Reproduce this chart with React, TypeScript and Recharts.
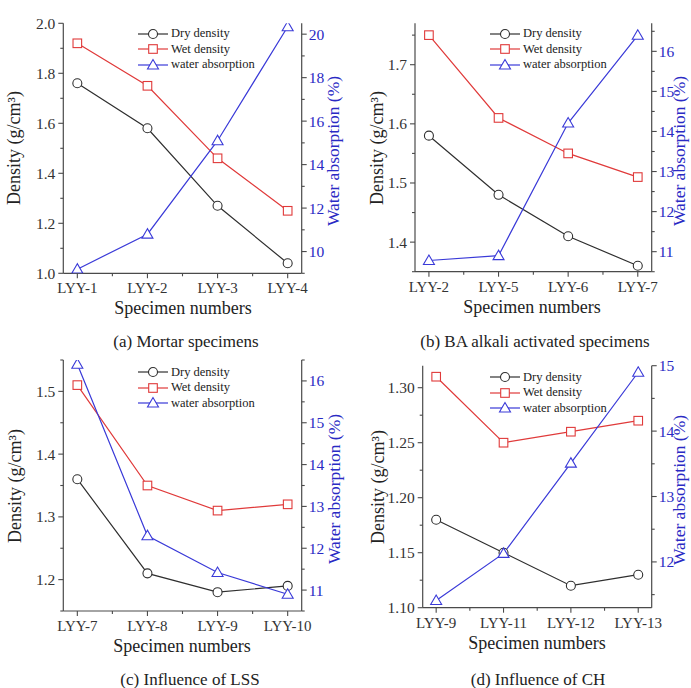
import React from "react";
import { LineChart, Line, XAxis, YAxis, Legend } from "recharts";

// (a) Mortar specimens
const catsA = ["LYY-1", "LYY-2", "LYY-3", "LYY-4"];
const dryA = [1.76, 1.58, 1.27, 1.04];
const wetA = [1.92, 1.75, 1.46, 1.25];
const waterA = [9.19, 10.8, 15.1, 20.34];
const leftTicksA = [1.0, 1.2, 1.4, 1.6, 1.8, 2.0];
const rightTicksA = [10, 12, 14, 16, 18, 20];

// (b) BA alkali activated specimens
const catsB = ["LYY-2", "LYY-5", "LYY-6", "LYY-7"];
const dryB = [1.58, 1.48, 1.41, 1.36];
const wetB = [1.75, 1.61, 1.55, 1.51];
const waterB = [10.78, 10.9, 14.21, 16.4];
const leftTicksB = [1.4, 1.5, 1.6, 1.7];
const rightTicksB = [11, 12, 13, 14, 15, 16];

// (c) Influence of LSS
const catsC = ["LYY-7", "LYY-8", "LYY-9", "LYY-10"];
const dryC = [1.36, 1.21, 1.18, 1.19];
const wetC = [1.51, 1.35, 1.31, 1.32];
const waterC = [16.4, 12.3, 11.42, 10.9];
const leftTicksC = [1.2, 1.3, 1.4, 1.5];
const rightTicksC = [11, 12, 13, 14, 15, 16];

// (d) Influence of CH
const catsD = ["LYY-9", "LYY-11", "LYY-12", "LYY-13"];
const dryD = [1.18, 1.15, 1.12, 1.13];
const wetD = [1.31, 1.25, 1.26, 1.27];
const waterD = [11.41, 12.13, 13.51, 14.9];
const leftTicksD = [1.1, 1.15, 1.2, 1.25, 1.3];
const rightTicksD = [12, 13, 14, 15];

const xTicks = [0, 0.5, 1, 1.5, 2, 2.5, 3];

const DRY = "#2f2f2f";
const WET = "#e03a3a";
const WATER = "#3a3ad8";
const BLUE_TEXT = "#2a2ac4";
const AXIS = "#4a4a4a";
const FONT = "'Liberation Serif', 'Times New Roman', serif";

const legendItems = [
  { name: "Dry density", color: DRY, shape: "circle" },
  { name: "Wet density", color: WET, shape: "square" },
  { name: "water absorption", color: WATER, shape: "triangle" },
];

function withMinor(majors: number[], domain: number[]) {
  const half = (majors[1] - majors[0]) / 2;
  const out: number[] = [];
  for (let k = -1; k <= (majors.length - 1) * 2 + 1; k++) {
    const v = Math.round((majors[0] + k * half) * 1e6) / 1e6;
    if (v >= domain[0] - 1e-9 && v <= domain[1] + 1e-9) out.push(v);
  }
  return out;
}

const isMajor = (v: number, majors: number[]) => majors.some((m) => Math.abs(m - v) < 1e-6);

function marker(shape: string, cx: number, cy: number, color: string, key?: any) {
  if (shape === "square")
    return <rect key={key} x={cx - 4.3} y={cy - 4.3} width={8.6} height={8.6} fill="#fff" stroke={color} strokeWidth={1.1} />;
  if (shape === "triangle")
    return (
      <polygon
        key={key}
        points={`${cx},${cy - 5.5} ${cx - 5.5},${cy + 4} ${cx + 5.5},${cy + 4}`}
        fill="#fff"
        stroke={color}
        strokeWidth={1.1}
      />
    );
  return <circle key={key} cx={cx} cy={cy} r={4.5} fill="#fff" stroke={color} strokeWidth={1.1} />;
}

const dotOf = (shape: string, color: string) => (p: any) => marker(shape, p.cx, p.cy, color, p.index);

function Panel(props: any) {
  const { cats, dry, wet, water, leftTicks, rightTicks, leftDomain, rightDomain, digits, box, plot, legend } = props;
  const data = cats.map((c: string, i: number) => ({ idx: i, name: c, dry: dry[i], wet: wet[i], water: water[i] }));
  const xH = 30;

  const leftTick = (p: any) => {
    const v = p.payload.value;
    const major = isMajor(v, leftTicks);
    return (
      <g>
        <line x1={p.x} x2={p.x - (major ? 5 : 3)} y1={p.y} y2={p.y} stroke={AXIS} strokeWidth={1.1} />
        {major && (
          <text x={p.x - 8} y={p.y} textAnchor="end" dominantBaseline="central" fontSize={15.5} fill="#333" fontFamily={FONT}>
            {v.toFixed(digits)}
          </text>
        )}
      </g>
    );
  };

  const rightTick = (p: any) => {
    const v = p.payload.value;
    const major = isMajor(v, rightTicks);
    return (
      <g>
        <line x1={p.x} x2={p.x + (major ? 5 : 3)} y1={p.y} y2={p.y} stroke={AXIS} strokeWidth={1.1} />
        {major && (
          <text x={p.x + 7} y={p.y} textAnchor="start" dominantBaseline="central" fontSize={15.5} fill={BLUE_TEXT} fontFamily={FONT}>
            {String(v)}
          </text>
        )}
      </g>
    );
  };

  const bottomTick = (p: any) => {
    const v = p.payload.value;
    const major = Number.isInteger(v);
    return (
      <g>
        <line x1={p.x} x2={p.x} y1={p.y} y2={p.y + (major ? 5 : 3)} stroke={AXIS} strokeWidth={1.1} />
        {major && (
          <text x={p.x} y={p.y + 15} textAnchor="middle" dominantBaseline="central" fontSize={15} fill="#333" fontFamily={FONT}>
            {cats[v]}
          </text>
        )}
      </g>
    );
  };

  const legendContent = () => (
    <div style={{ fontFamily: FONT, fontSize: 12.5, color: "#222" }}>
      {legendItems.map((it) => (
        <div key={it.name} style={{ display: "flex", alignItems: "center", height: 15.5, whiteSpace: "nowrap" }}>
          <svg width={31} height={14} style={{ display: "block" }}>
            <line x1={0} x2={30} y1={7} y2={7} stroke={it.color} strokeWidth={1.2} />
            {marker(it.shape, 15, 7, it.color)}
          </svg>
          <span style={{ marginLeft: 2 }}>{it.name}</span>
        </div>
      ))}
    </div>
  );

  return (
    <div style={{ position: "absolute", left: box.x, top: box.y }}>
      <LineChart
        width={box.w}
        height={box.h}
        data={data}
        margin={{ top: plot.t - box.y, left: 0, right: 0, bottom: box.y + box.h - plot.b - xH }}
      >
        <XAxis
          xAxisId="bottom"
          type="number"
          dataKey="idx"
          domain={[-0.2, 3.2]}
          allowDataOverflow
          ticks={xTicks}
          interval={0}
          height={xH}
          tickSize={0}
          tickMargin={0}
          tickLine={false}
          tick={bottomTick}
          axisLine={{ stroke: AXIS, strokeWidth: 1.2 }}
        />
        <XAxis
          xAxisId="top"
          orientation="top"
          type="number"
          dataKey="idx"
          domain={[-0.2, 3.2]}
          allowDataOverflow
          height={0}
          tick={false}
          tickLine={false}
          axisLine={{ stroke: AXIS, strokeWidth: 1.2 }}
        />
        <YAxis
          yAxisId="left"
          type="number"
          domain={leftDomain}
          allowDataOverflow
          ticks={withMinor(leftTicks, leftDomain)}
          interval={0}
          width={plot.l - box.x}
          tickSize={0}
          tickMargin={0}
          tickLine={false}
          tick={leftTick}
          axisLine={{ stroke: AXIS, strokeWidth: 1.2 }}
        />
        <YAxis
          yAxisId="right"
          orientation="right"
          type="number"
          domain={rightDomain}
          allowDataOverflow
          ticks={withMinor(rightTicks, rightDomain)}
          interval={0}
          width={box.x + box.w - plot.r}
          tickSize={0}
          tickMargin={0}
          tickLine={false}
          tick={rightTick}
          axisLine={{ stroke: AXIS, strokeWidth: 1.2 }}
        />
        <Legend
          layout="vertical"
          align="center"
          verticalAlign="middle"
          content={legendContent}
          wrapperStyle={{ left: legend.x - box.x, top: legend.y - box.y, width: 150 }}
        />
        <Line xAxisId="bottom" yAxisId="left" type="linear" dataKey="dry" name="Dry density" stroke={DRY} strokeWidth={1.2} dot={dotOf("circle", DRY)} activeDot={false} isAnimationActive={false} />
        <Line xAxisId="bottom" yAxisId="left" type="linear" dataKey="wet" name="Wet density" stroke={WET} strokeWidth={1.2} dot={dotOf("square", WET)} activeDot={false} isAnimationActive={false} />
        <Line xAxisId="bottom" yAxisId="right" type="linear" dataKey="water" name="water absorption" stroke={WATER} strokeWidth={1.2} dot={dotOf("triangle", WATER)} activeDot={false} isAnimationActive={false} />
      </LineChart>
    </div>
  );
}

function Title({ x, y, text, rotate, color, size }: any) {
  return (
    <div
      style={{
        position: "absolute",
        left: x,
        top: y,
        transform: `translate(-50%, -50%)${rotate ? " rotate(-90deg)" : ""}`,
        whiteSpace: "nowrap",
        fontFamily: FONT,
        fontSize: size,
        color: color || "#222",
        lineHeight: 1,
      }}
    >
      {text}
    </div>
  );
}

const panels = [
  {
    cats: catsA, dry: dryA, wet: wetA, water: waterA, leftTicks: leftTicksA, rightTicks: rightTicksA,
    leftDomain: [1.0, 2.0], rightDomain: [9, 20.5], digits: 1,
    box: { x: 0, y: 0, w: 345, h: 337 }, plot: { l: 63.3, t: 23.3, r: 301.7, b: 273.3 },
    legend: { x: 138, y: 26 }, leftX: 14, rightX: 334, xTitle: { x: 183, y: 308 },
    caption: { x: 186, y: 341, text: "(a) Mortar specimens" },
  },
  {
    cats: catsB, dry: dryB, wet: wetB, water: waterB, leftTicks: leftTicksB, rightTicks: rightTicksB,
    leftDomain: [1.35, 1.77], rightDomain: [10.5, 16.7], digits: 1,
    box: { x: 345, y: 0, w: 346, h: 337 }, plot: { l: 415, t: 23.3, r: 651.7, b: 271.7 },
    legend: { x: 490, y: 26 }, leftX: 377, rightX: 680, xTitle: { x: 532, y: 307 },
    caption: { x: 535, y: 341, text: "(b) BA alkali activated specimens" },
  },
  {
    cats: catsC, dry: dryC, wet: wetC, water: waterC, leftTicks: leftTicksC, rightTicks: rightTicksC,
    leftDomain: [1.15, 1.55], rightDomain: [10.5, 16.5], digits: 1,
    box: { x: 0, y: 337, w: 345, h: 351 }, plot: { l: 63.3, t: 360, r: 301.7, b: 611 },
    legend: { x: 138, y: 364.3 }, leftX: 15, rightX: 335, xTitle: { x: 182, y: 646 },
    caption: { x: 190, y: 679, text: "(c) Influence of LSS" },
  },
  {
    cats: catsD, dry: dryD, wet: wetD, water: waterD, leftTicks: leftTicksD, rightTicks: rightTicksD,
    leftDomain: [1.1, 1.32], rightDomain: [11.3, 15], digits: 2,
    box: { x: 345, y: 337, w: 346, h: 351 }, plot: { l: 422.7, t: 365.7, r: 651.7, b: 607.7 },
    legend: { x: 490, y: 369.3 }, leftX: 378, rightX: 680, xTitle: { x: 537, y: 643 },
    caption: { x: 538, y: 679, text: "(d) Influence of CH" },
  },
];

export default function App() {
  return (
    <div style={{ position: "absolute", left: 0, top: 0, width: 691, height: 688, background: "#fff", overflow: "hidden" }}>
      {panels.map((p) => (
        <Panel key={p.caption.text} {...p} />
      ))}
      {panels.map((p) => {
        const cy = (p.plot.t + p.plot.b) / 2;
        return (
          <React.Fragment key={"t" + p.caption.text}>
            <Title x={p.leftX} y={cy} text="Density (g/cm³)" rotate size={18} />
            <Title x={p.rightX} y={cy + 3} text="Water absorption (%)" rotate size={17.5} color={BLUE_TEXT} />
            <Title x={p.xTitle.x} y={p.xTitle.y} text="Specimen numbers" size={18} />
            <Title x={p.caption.x} y={p.caption.y} text={p.caption.text} size={17} />
          </React.Fragment>
        );
      })}
    </div>
  );
}
